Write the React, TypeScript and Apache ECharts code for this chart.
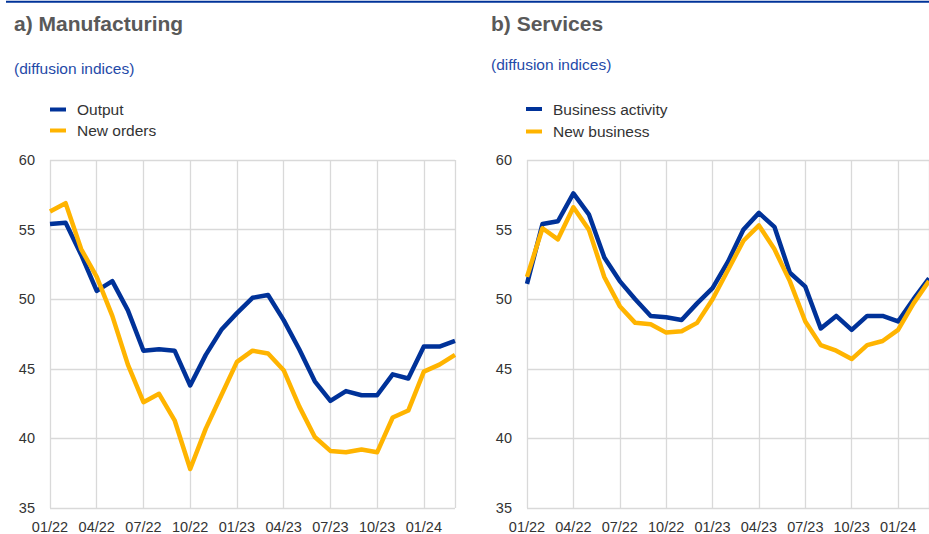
import React, { useEffect, useRef } from "react";
import * as echarts from "echarts";

const months = [
  "01/22", "02/22", "03/22", "04/22", "05/22", "06/22", "07/22", "08/22", "09/22",
  "10/22", "11/22", "12/22", "01/23", "02/23", "03/23", "04/23", "05/23", "06/23",
  "07/23", "08/23", "09/23", "10/23", "11/23", "12/23", "01/24", "02/24", "03/24",
];

const yMin = 35;
const yMax = 60;
const yStep = 5;

const mfgOutput = [
  55.4, 55.5, 53.2, 50.6, 51.3, 49.2, 46.3, 46.4, 46.3, 43.8, 46.0, 47.8, 49.0, 50.1,
  50.3, 48.5, 46.4, 44.1, 42.7, 43.4, 43.1, 43.1, 44.6, 44.3, 46.6, 46.6, 47.0,
];
const mfgNewOrders = [
  56.3, 56.9, 53.6, 51.6, 48.8, 45.3, 42.6, 43.2, 41.3, 37.8, 40.7, 43.1, 45.5, 46.3,
  46.1, 44.9, 42.3, 40.1, 39.1, 39.0, 39.2, 39.0, 41.5, 42.0, 44.8, 45.3, 46.0,
];
const srvActivity = [
  51.1, 55.4, 55.6, 57.6, 56.1, 53.0, 51.3, 50.0, 48.8, 48.7, 48.5, 49.7, 50.8, 52.7,
  55.0, 56.2, 55.2, 51.9, 50.9, 47.9, 48.8, 47.8, 48.8, 48.8, 48.4, 50.0, 51.5,
];
const srvNewBusiness = [
  51.6, 55.1, 54.3, 56.6, 55.0, 51.6, 49.5, 48.3, 48.2, 47.6, 47.7, 48.3, 50.0, 52.1,
  54.2, 55.3, 53.6, 51.3, 48.4, 46.7, 46.3, 45.7, 46.7, 47.0, 47.8, 49.7, 51.3,
];

const BLUE = "#003299";
const YELLOW = "#FFB400";
const GRID = "#d9d9d9";
const LABEL = "#333333";
const TITLE = "#595959";
const SUB = "#1f4aa8";
const FONT = "'Liberation Sans', Arial, Helvetica, sans-serif";

export default function App() {
  const ref = useRef<HTMLDivElement>(null);

  useEffect(() => {
    const chart = echarts.init(ref.current!, null, { renderer: "svg" });

    const xAxis = (gridIndex: number) => ({
      type: "category",
      gridIndex,
      data: months,
      boundaryGap: false,
      axisLine: { show: false },
      axisTick: { show: false },
      axisLabel: {
        interval: (i: number) => i % 3 === 0,
        color: LABEL,
        fontSize: 14.5,
        fontFamily: FONT,
        margin: 11,
      },
      splitLine: {
        show: true,
        interval: (i: number) => i % 3 === 0 || i === months.length - 1,
        lineStyle: { color: GRID, width: 1.3 },
      },
    });

    const yAxis = (gridIndex: number) => ({
      type: "value",
      gridIndex,
      min: yMin,
      max: yMax,
      interval: yStep,
      axisLine: { show: false },
      axisTick: { show: false },
      axisLabel: { color: LABEL, fontSize: 14.5, fontFamily: FONT, margin: 15 },
      splitLine: { show: true, lineStyle: { color: GRID, width: 1.3 } },
    });

    const line = (name: string, data: number[], color: string, idx: number) => ({
      name,
      type: "line",
      xAxisIndex: idx,
      yAxisIndex: idx,
      data,
      symbol: "none",
      smooth: false,
      lineStyle: { color, width: 4.5, join: "round" },
      itemStyle: { color },
    });

    const legend = (left: number, top: number, gap: number, data: string[]) => ({
      orient: "vertical",
      left,
      top,
      padding: 0,
      itemWidth: 16,
      itemHeight: 4,
      itemGap: gap,
      icon: "rect",
      data,
      selectedMode: false,
      textStyle: {
        fontSize: 15.5,
        color: LABEL,
        fontFamily: FONT,
        lineHeight: 15,
        padding: [0, 0, 0, 6],
      },
    });

    const txt = (x: number, y: number, text: string, size: number, color: string, bold: boolean) => ({
      type: "text",
      x,
      y,
      style: {
        text,
        fill: color,
        fontSize: size,
        fontWeight: bold ? "bold" : "normal",
        fontFamily: FONT,
        verticalAlign: "middle",
        align: "left",
      },
    });

    chart.setOption({
      animation: false,
      backgroundColor: "#ffffff",
      grid: [
        { left: 50, top: 160, width: 405, height: 348 },
        { left: 527, top: 160, width: 402, height: 349 },
      ],
      xAxis: [xAxis(0), xAxis(1)],
      yAxis: [yAxis(0), yAxis(1)],
      legend: [
        legend(50, 101.5, 5, ["Output", "New orders"]),
        legend(526, 101, 6.5, ["Business activity", "New business"]),
      ],
      series: [
        line("Output", mfgOutput, BLUE, 0),
        line("New orders", mfgNewOrders, YELLOW, 0),
        line("Business activity", srvActivity, BLUE, 1),
        line("New business", srvNewBusiness, YELLOW, 1),
      ],
      graphic: [
        {
          type: "line",
          shape: { x1: 6, y1: 1.8, x2: 929, y2: 1.8 },
          style: { stroke: "#003399", lineWidth: 2 },
        },
        txt(14, 23, "a) Manufacturing", 21, TITLE, true),
        txt(14, 68, "(diffusion indices)", 15.5, SUB, false),
        txt(491, 23, "b) Services", 21, TITLE, true),
        txt(491, 64.5, "(diffusion indices)", 15.5, SUB, false),
      ],
    });

    return () => chart.dispose();
  }, []);

  return (
    <div
      ref={ref}
      style={{ position: "absolute", left: 0, top: 0, width: 929, height: 534 }}
    />
  );
}
